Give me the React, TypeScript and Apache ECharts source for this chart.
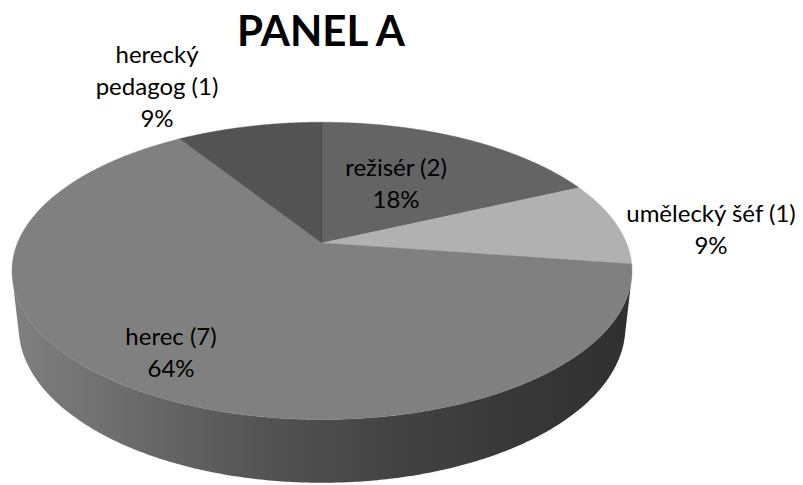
import React, { useEffect, useRef } from "react";
import * as echarts from "echarts";

// ---- data ----
const categories = ["režisér", "umělecký šéf", "herec", "herecký pedagog"];
const categoryLabels = ["režisér", "umělecký šéf", "herec", "herecký\npedagog"];
const counts = [2, 1, 7, 1];
const title = "PANEL A";

// ---- styles / layout ----
const topColors = ["#646464", "#b1b1b1", "#808080", "#535353"];
const labelPos: [number, number][] = [
  [396, 182],
  [711, 228],
  [171, 351],
  [157, 85],
];

// 3D perspective model
const CX = 322;
const CY = 243;
const F = 1431;
const D = 4.7;
const ALPHA = (28.1 * Math.PI) / 180;
const H = 0.21;
const SA = Math.sin(ALPHA);
const CA = Math.cos(ALPHA);

function proj(theta: number, y: number): [number, number] {
  const X = Math.sin(theta);
  const Z = -Math.cos(theta);
  const yc = y * CA - Z * SA;
  const d = D - (Z * CA + y * SA);
  return [CX + (F * X) / d, CY - (F * yc) / d];
}

function arcPoints(a: number, b: number, y: number): [number, number][] {
  const pts: [number, number][] = [];
  const n = Math.max(2, Math.ceil(((b - a) * 180) / Math.PI / 0.5));
  for (let i = 0; i <= n; i++) pts.push(proj(a + ((b - a) * i) / n, y));
  return pts;
}

function sliceAngles(values: number[]) {
  const total = values.reduce((s, v) => s + v, 0);
  let acc = 0;
  return values.map((v) => {
    const a0 = (acc / total) * Math.PI * 2;
    acc += v;
    const a1 = (acc / total) * Math.PI * 2;
    return [a0, a1];
  });
}

export default function App() {
  const ref = useRef<HTMLDivElement>(null);
  useEffect(() => {
    if (!ref.current) return;
    const chart = echarts.init(ref.current, undefined, { renderer: "svg" });
    const total = counts.reduce((s, v) => s + v, 0);
    const angles = sliceAngles(counts);
    const zMin = 1 / (D * CA);
    const visA = Math.acos(-zMin);
    const visB = Math.PI * 2 - visA;

    const sideGradient = new echarts.graphic.LinearGradient(
      12,
      0,
      632,
      0,
      [
        { offset: 0, color: "#808080" },
        { offset: 0.2, color: "#6a6a6a" },
        { offset: 0.4, color: "#545454" },
        { offset: 0.6, color: "#444444" },
        { offset: 0.8, color: "#383838" },
        { offset: 1, color: "#303030" },
      ],
      true
    );

    chart.setOption({
      animation: false,
      title: {
        text: title,
        left: 316,
        top: 4,
        textAlign: "center",
        textStyle: {
          fontFamily: "Lato",
          fontWeight: "bold",
          fontSize: 42,
          color: "#000",
        },
      },
      series: [
        {
          type: "custom",
          name: "sides",
          coordinateSystem: "none",
          z: 1,
          silent: true,
          data: counts,
          renderItem: (params: any) => {
            const [a0, a1] = angles[params.dataIndex];
            const a = Math.max(a0, visA);
            const b = Math.min(a1, visB);
            if (b <= a) return { type: "group", children: [] };
            const top = arcPoints(a, b, 0);
            const bottom = arcPoints(a, b, -H).reverse();
            return {
              type: "polygon",
              shape: { points: top.concat(bottom) },
              style: { fill: sideGradient, stroke: null },
            };
          },
        },
        {
          type: "custom",
          name: "tops",
          coordinateSystem: "none",
          z: 2,
          silent: true,
          data: counts,
          renderItem: (params: any, api: any) => {
            const i = params.dataIndex;
            const v = api.value(0);
            const [a0, a1] = angles[i];
            const pts: [number, number][] = [[CX, CY] as [number, number]].concat(
              arcPoints(a0, a1, 0)
            );
            const pct = Math.round((v / total) * 100);
            return {
              type: "group",
              children: [
                {
                  type: "polygon",
                  shape: { points: pts },
                  style: { fill: topColors[i], stroke: topColors[i], lineWidth: 0.5 },
                },
                {
                  type: "text",
                  x: labelPos[i][0],
                  y: labelPos[i][1],
                  z2: 100,
                  style: {
                    text: `${categoryLabels[i]} (${v})\n${pct}%`,
                    fill: "#000",
                    font: "24px Lato",
                    align: "center",
                    verticalAlign: "middle",
                    lineHeight: 32,
                  },
                },
              ],
            };
          },
        },
      ],
    });
    return () => chart.dispose();
  }, []);
  return (
    <div
      ref={ref}
      style={{ position: "fixed", left: 0, top: 0, width: 803, height: 485, background: "#fff" }}
    />
  );
}
